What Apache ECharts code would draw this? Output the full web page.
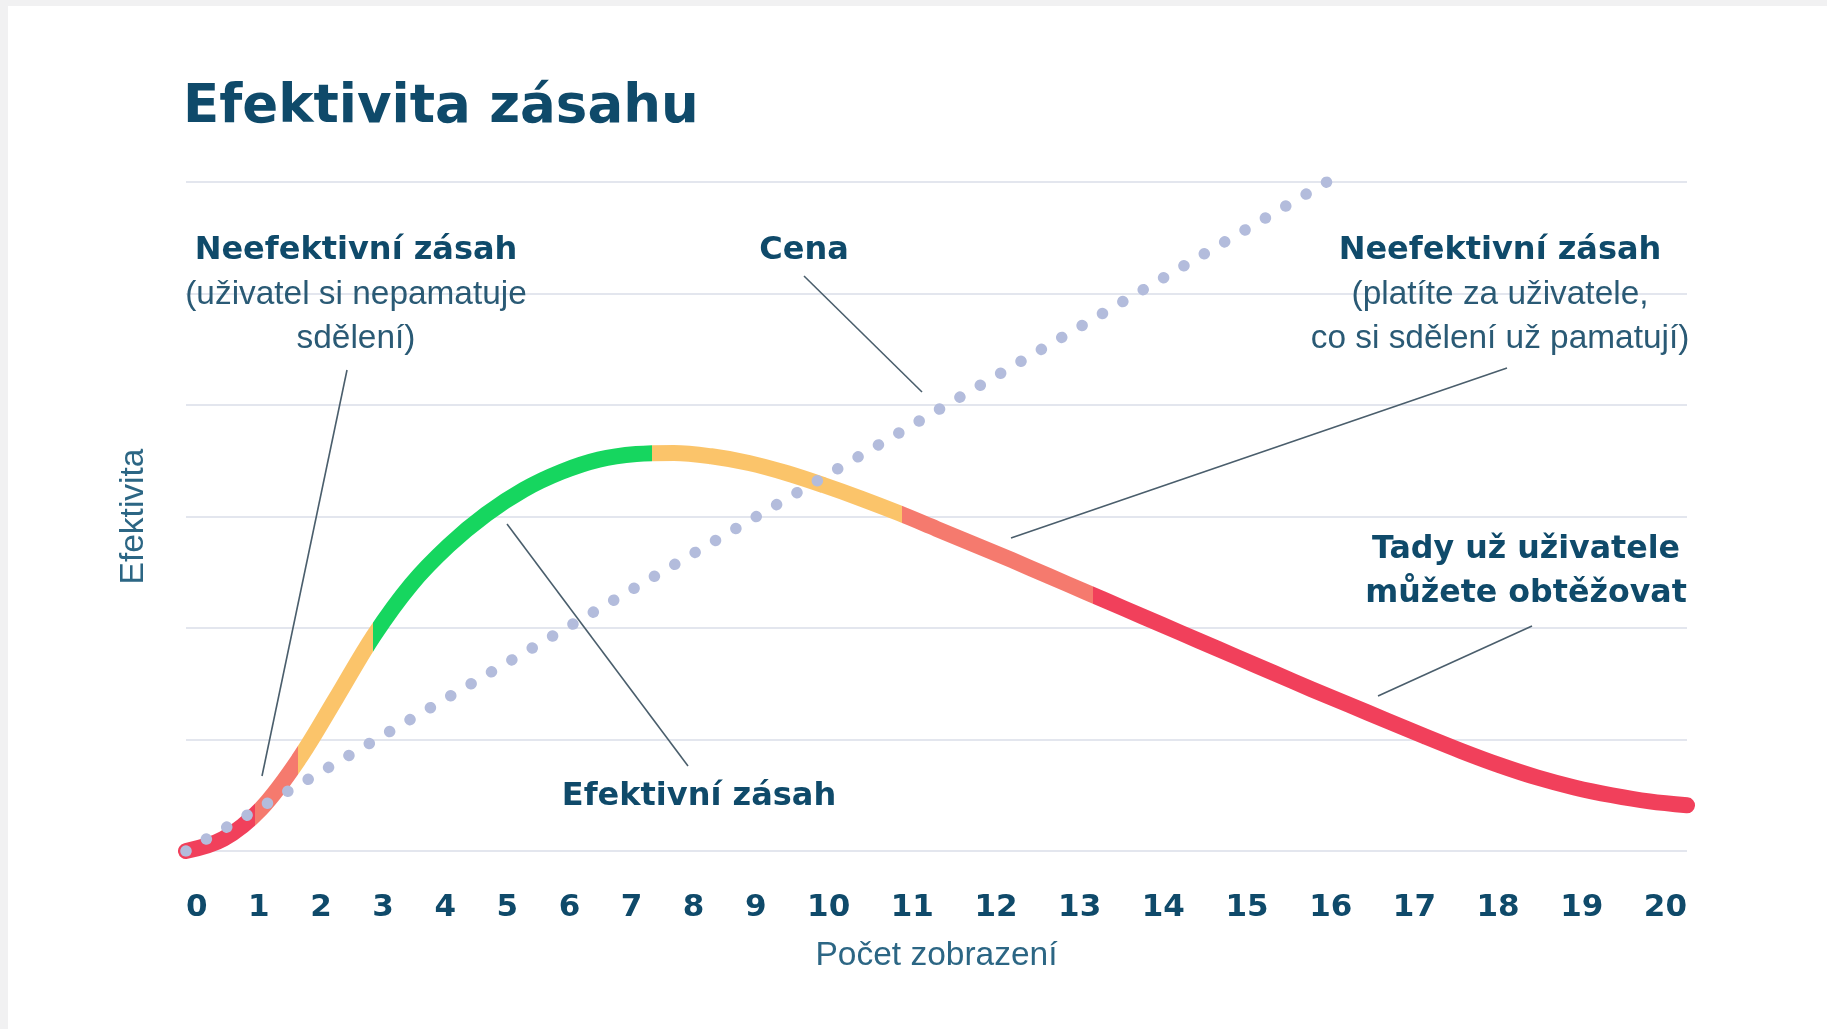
<!DOCTYPE html>
<html><head><meta charset="utf-8">
<script src="https://cdn.jsdelivr.net/npm/echarts@6/dist/echarts.min.js"></script>
<style>
html,body{margin:0;padding:0;background:#f1f1f2;}
#wrap{position:relative;width:1827px;height:1029px;overflow:hidden;background:#f1f1f2;}
#card{position:absolute;left:8px;top:6px;right:0;bottom:0;background:#ffffff;}
#chart{position:absolute;left:0;top:0;width:1827px;height:1029px;}
</style></head><body>
<div id="wrap"><div id="card"></div><div id="chart"></div></div>
<script>
// ---------- data ----------
const impressions = [0,0.5,1,1.5,2,2.5,3,3.5,4,4.5,5,5.5,6,6.5,7,7.5,8,8.5,9,9.5,10,10.5,11,11.5,12,12.5,13,13.5,14,14.5,15,15.5,16,16.5,17,17.5,18,18.5,19,19.5,20];
const effectiveness = [0,1.1,3.8,8.2,13.7,19.3,23.9,27.4,30.2,32.4,34.0,35.1,35.6,35.7,35.4,34.8,33.9,32.8,31.6,30.3,28.9,27.5,26.1,24.65,23.2,21.75,20.3,18.85,17.4,15.95,14.5,13.1,11.7,10.3,8.95,7.7,6.6,5.7,5.0,4.45,4.1];
const costX = [0, 15.2];
const costY = [0, 60];
const tickLabels = ['0','1','2','3','4','5','6','7','8','9','10','11','12','13','14','15','16','17','18','19','20'];
const zoneBreaks = [0.92, 1.49, 2.49, 6.21, 9.54, 12.08];
const zoneColors = ['#f1405b','#f57a6e','#fbc46a','#16d65f','#fbc46a','#f57a6e','#f1405b'];
const xMin = 0, xMax = 20, yMin = 0, yMax = 60, yStep = 10;

// ---------- layout ----------
const gridLeft = 186, gridRight = 140, gridTop = 182, gridBottom = 178;
const plotW = 1827 - gridLeft - gridRight;
const navy = '#0f4a6a';
const boldFam = '"DejaVu Sans", sans-serif';
const regFam = '"Liberation Sans", Arial, sans-serif';
const tickFontSize = 31;

// tick labels are laid out as a justified row spanning the plot width
const ctx = document.createElement('canvas').getContext('2d');
ctx.font = 'bold ' + tickFontSize + 'px ' + boldFam;
const widths = tickLabels.map(t => ctx.measureText(t).width);
const gap = (plotW - widths.reduce((a, b) => a + b, 0)) / (tickLabels.length - 1);
const labelPos = [];
let acc = 0;
widths.forEach(w => { labelPos.push(xMin + (acc + w / 2) / plotW * (xMax - xMin)); acc += w + gap; });
function labelFor(v) {
  let best = 0, bd = Infinity;
  labelPos.forEach((p, i) => { const d = Math.abs(p - v); if (d < bd) { bd = d; best = i; } });
  return tickLabels[best];
}

const pieces = zoneColors.map((c, i) => {
  const p = { color: c };
  if (i > 0) p.gte = zoneBreaks[i - 1];
  if (i < zoneBreaks.length) p.lt = zoneBreaks[i];
  return p;
});

const texts = [
  { t: 'Neefektivní zásah', x: 356, y: 251, b: true, s: 32 },
  { t: '(uživatel si nepamatuje', x: 356, y: 295, b: false, s: 33.4 },
  { t: 'sdělení)', x: 356, y: 339, b: false, s: 33.4 },
  { t: 'Cena', x: 804, y: 251, b: true, s: 32 },
  { t: 'Neefektivní zásah', x: 1500, y: 251, b: true, s: 32 },
  { t: '(platíte za uživatele,', x: 1500, y: 295, b: false, s: 33.4 },
  { t: 'co si sdělení už pamatují)', x: 1500, y: 339, b: false, s: 33.4 },
  { t: 'Tady už uživatele', x: 1526, y: 550, b: true, s: 31.7 },
  { t: 'můžete obtěžovat', x: 1526, y: 594, b: true, s: 31.7 },
  { t: 'Efektivní zásah', x: 699, y: 797, b: true, s: 32 }
];
const leaders = [
  [347, 370, 262, 776],
  [804, 276, 922, 392],
  [1507, 368, 1011, 538],
  [1532, 626, 1378, 696],
  [688, 766, 507, 524]
];

const graphic = [
  { type: 'text', left: 183, top: 82, style: { text: 'Efektivita zásahu', font: 'bold 53px ' + boldFam, fill: navy } }
];
texts.forEach(o => graphic.push({
  type: 'text', x: o.x, y: o.y, z: 10,
  style: { text: o.t, align: 'center', verticalAlign: 'middle',
    font: (o.b ? 'bold ' : '') + o.s + 'px ' + (o.b ? boldFam : regFam),
    fill: o.b ? navy : '#2a5a75' }
}));
leaders.forEach(l => graphic.push({
  type: 'line', z: 10, shape: { x1: l[0], y1: l[1], x2: l[2], y2: l[3] },
  style: { stroke: '#4a5e6c', lineWidth: 1.6 }
}));

const chart = echarts.init(document.getElementById('chart'), null, { renderer: 'canvas' });
chart.setOption({
  animation: false,
  backgroundColor: 'transparent',
  grid: { left: gridLeft, right: gridRight, top: gridTop, bottom: gridBottom },
  xAxis: {
    type: 'value', min: xMin, max: xMax,
    axisLine: { show: false }, axisTick: { show: false }, splitLine: { show: false },
    axisLabel: {
      customValues: labelPos, formatter: v => labelFor(v), margin: 41,
      fontFamily: boldFam, fontWeight: 'bold', fontSize: tickFontSize, color: navy
    },
    name: 'Počet zobrazení', nameLocation: 'middle', nameGap: 88,
    nameTextStyle: { fontFamily: regFam, fontSize: 33.5, color: '#2c6684' }
  },
  yAxis: {
    type: 'value', min: yMin, max: yMax, interval: yStep,
    axisLine: { show: false }, axisTick: { show: false }, axisLabel: { show: false },
    splitLine: { lineStyle: { color: '#e3e6ee', width: 2 } },
    name: 'Efektivita', nameLocation: 'middle', nameRotate: 90, nameGap: 35,
    nameTextStyle: { fontFamily: regFam, fontSize: 33.5, color: '#2c6684' }
  },
  visualMap: { type: 'piecewise', show: false, dimension: 0, seriesIndex: 0, pieces: pieces },
  series: [
    {
      name: 'Efektivita', type: 'line', smooth: 0.35, showSymbol: false, z: 3,
      data: impressions.map((x, i) => [x, effectiveness[i]]),
      lineStyle: { width: 16, cap: 'round', join: 'round' }
    },
    {
      name: 'Cena', type: 'line', showSymbol: false, z: 4,
      data: costX.map((x, i) => [x, costY[i]]),
      lineStyle: { width: 11.5, color: '#b3bcdc', type: [0.01, 23.6], cap: 'round' }
    }
  ],
  graphic: graphic
});
</script>
</body></html>
